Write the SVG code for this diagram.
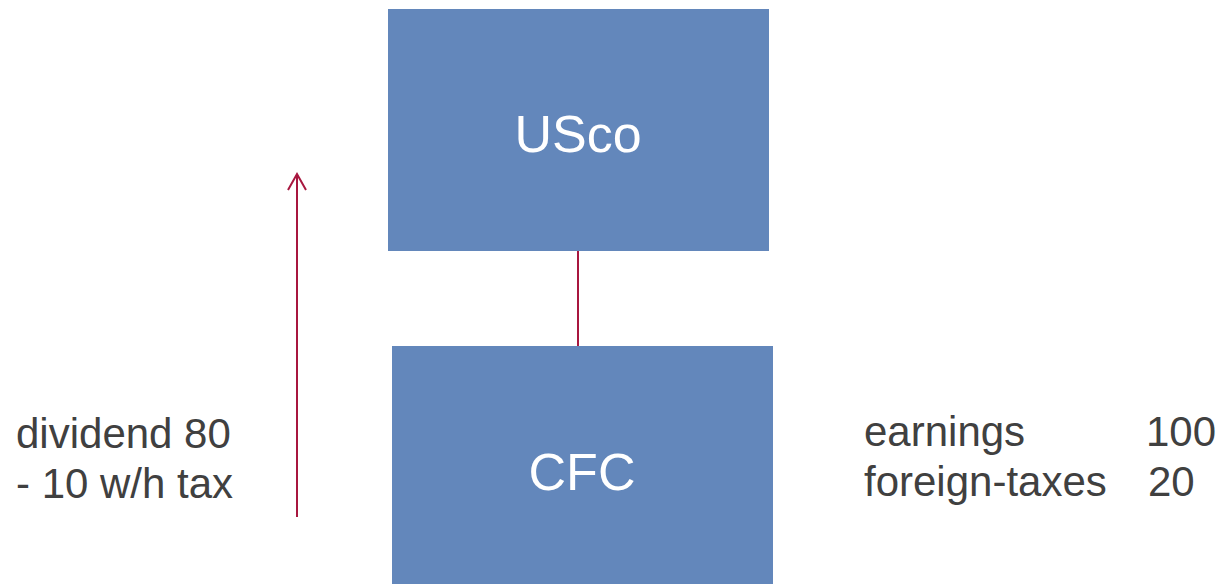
<svg xmlns="http://www.w3.org/2000/svg" width="1223" height="584" viewBox="0 0 1223 584">
<style>
.box{fill:#6387BB}
.lbl{font-family:"Liberation Sans",Arial,sans-serif;font-size:52px;fill:#ffffff;text-anchor:middle}
.txt{font-family:"Liberation Sans",Arial,sans-serif;font-size:42px;fill:#404040}
.con{stroke:#A8173F;stroke-width:2;fill:none}
</style>
<rect width="1223" height="584" fill="#ffffff"/>
<g id="connectors">
<line class="con" x1="578" y1="251" x2="578" y2="346"/>
<line class="con" x1="297" y1="517" x2="297" y2="175"/>
<polyline class="con" points="288,190 297,174 306,190"/>
</g>
<g id="usco">
<rect class="box" x="388" y="9" width="381" height="242"/>
<text class="lbl" x="578" y="152">USco</text>
</g>
<g id="cfc">
<rect class="box" x="392" y="346" width="381" height="240"/>
<text class="lbl" x="582" y="490">CFC</text>
</g>
<g id="dividend">
<text class="txt" x="16" y="448">dividend 80</text>
<text class="txt" x="16" y="498">- 10 w/h tax</text>
</g>
<g id="earnings">
<text class="txt" x="864" y="446">earnings</text>
<text class="txt" x="1216" y="446" text-anchor="end">100</text>
<text class="txt" x="864" y="496">foreign-taxes</text>
<text class="txt" x="1148" y="496">20</text>
</g>
</svg>
